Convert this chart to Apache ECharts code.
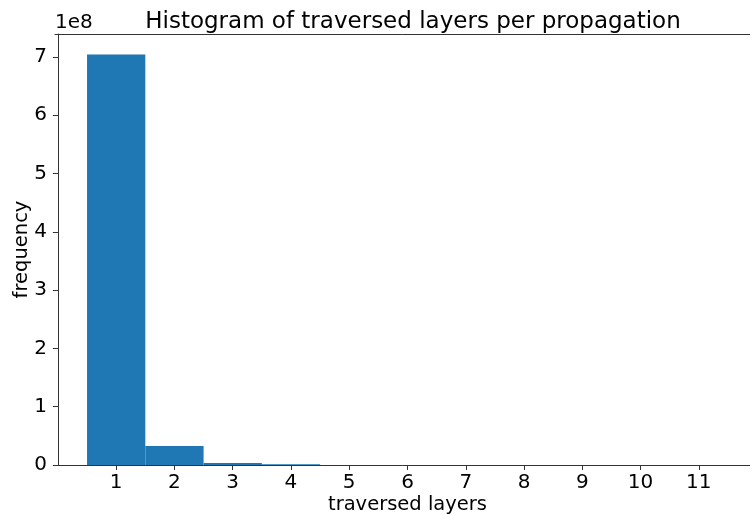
<!DOCTYPE html>
<html>
<head>
<meta charset="utf-8">
<script src="https://cdn.jsdelivr.net/npm/echarts@6/dist/echarts.min.js"></script>
<style>
  html, body { margin: 0; padding: 0; background: #fff; }
  #chart { width: 750px; height: 515px; }
</style>
</head>
<body>
<div id="chart"></div>
<script>
// Number of layers traversed per propagation (histogram bins centred on integers)
const layers = [1, 2, 3, 4, 5, 6, 7, 8, 9, 10, 11];
const frequency = [704000000, 32600000, 3400000, 1500000, 200000, 50000, 10000, 3000, 1000, 300, 100];
const xTicks = [1, 2, 3, 4, 5, 6, 7, 8, 9, 10, 11];
const yTicks = [0, 1, 2, 3, 4, 5, 6, 7];
const yScale = 1e8;

const font = 'DejaVu Sans';
const bins = layers.map((l, i) => [l - 0.5, l + 0.5, frequency[i]]);
const yMax = Math.max(...frequency) * 1.05;

const chart = echarts.init(document.getElementById('chart'), null, { renderer: 'canvas' });
chart.setOption({
  animation: false,
  title: {
    text: 'Histogram of traversed layers per propagation',
    left: 408, top: 6, textAlign: 'center',
    textStyle: { fontFamily: font, fontSize: 23, fontWeight: 'normal', color: '#000' }
  },
  graphic: [{
    type: 'text', left: 55, top: 13,
    style: { text: '1e8', fontFamily: font, fontSize: 20, fill: '#000' }
  }],
  grid: { left: 55, right: -10, top: 34, bottom: 50, outerBoundsMode: 'none', containLabel: false },
  xAxis: [{
    type: 'value', min: -0.05, max: 12.05,
    name: 'traversed layers', nameLocation: 'middle', nameGap: 30, nameMoveOverlap: false,
    nameTextStyle: { fontFamily: font, fontSize: 19.5, color: '#000' },
    axisLine: { show: true, onZero: false, lineStyle: { color: '#333', width: 1 } },
    axisTick: { show: true, length: 5, lineStyle: { color: '#333' }, customValues: xTicks },
    axisLabel: { fontFamily: font, fontSize: 20, color: '#000', margin: 8, customValues: xTicks },
    splitLine: { show: false }
  }, {
    // top spine
    type: 'value', position: 'top', min: -0.05, max: 12.05,
    axisLine: { show: true, onZero: false, lineStyle: { color: '#333', width: 1 } },
    axisTick: { show: false }, axisLabel: { show: false }, splitLine: { show: false }
  }],
  yAxis: {
    type: 'value', min: 0, max: yMax,
    name: 'frequency', nameLocation: 'middle', nameGap: 23, nameRotate: 90, nameMoveOverlap: false,
    nameTextStyle: { fontFamily: font, fontSize: 19.5, color: '#000' },
    axisLine: { show: true, lineStyle: { color: '#333', width: 1 } },
    axisTick: { show: true, length: 5, lineStyle: { color: '#333' }, customValues: yTicks.map(v => v * yScale) },
    axisLabel: {
      fontFamily: font, fontSize: 20, color: '#000', margin: 8,
      customValues: yTicks.map(v => v * yScale),
      formatter: v => String(Math.round(v / yScale))
    },
    splitLine: { show: false }
  },
  series: [{
    type: 'custom',
    data: bins,
    renderItem: function (params, api) {
      const p0 = api.coord([api.value(0), 0]);
      const p1 = api.coord([api.value(1), api.value(2)]);
      return {
        type: 'rect',
        shape: { x: p0[0], y: p1[1], width: p1[0] - p0[0], height: p0[1] - p1[1] },
        style: { fill: '#1f77b4' }
      };
    }
  }]
});
</script>
</body>
</html>
